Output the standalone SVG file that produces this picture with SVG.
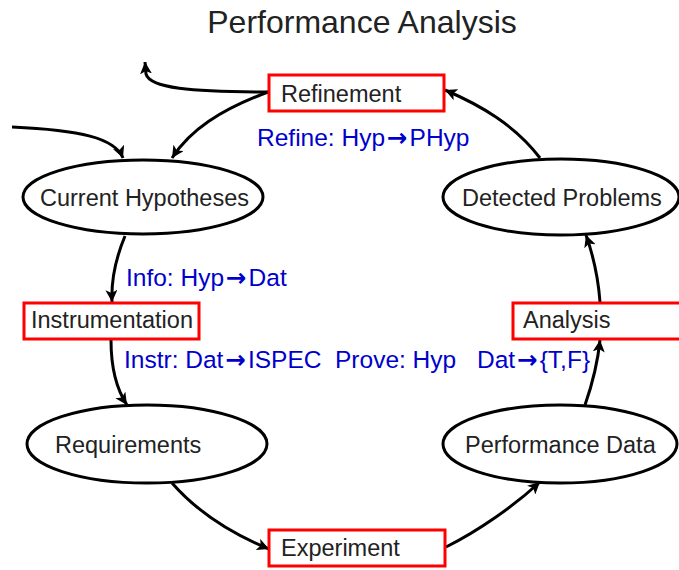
<svg xmlns="http://www.w3.org/2000/svg" width="679" height="570" viewBox="0 0 679 570">
<style>
.t{font-family:"Liberation Sans",Arial,sans-serif;font-size:23.5px;fill:#222}
.b{font-family:"Liberation Sans",Arial,sans-serif;font-size:24.5px;fill:#0000cc}
.ar{font-family:"DejaVu Sans",sans-serif;font-weight:bold}
.title{font-family:"Liberation Sans",Arial,sans-serif;font-size:32px;fill:#222}
.box{fill:#fff;stroke:#ff0000;stroke-width:3}
.ell{fill:#fff;stroke:#000;stroke-width:3}
.c{fill:none;stroke:#000;stroke-width:3;marker-end:url(#ah)}
</style>
<defs>
<marker id="ah" markerUnits="userSpaceOnUse" markerWidth="14" markerHeight="12" refX="12" refY="6" orient="auto">
<path d="M0,0 L12,6 L0,12 L3,6 Z" fill="#000"/>
</marker>
</defs>
<rect width="679" height="570" fill="#fff"/>
<text class="title" x="362" y="33" text-anchor="middle">Performance Analysis</text>
<g id="connectors">
<path class="c" d="M268,92 C190,92 150,88 146,74 L145,62"/>
<path class="c" d="M12,127 C80,130 115,138 123,158"/>
<path class="c" d="M268,92 C220,110 190,130 172,158"/>
<path class="c" d="M125,236 C115,260 111,280 112,302"/>
<path class="c" d="M111,340 C111,370 117,390 127,405"/>
<path class="c" d="M172,483 C200,515 235,535 269,549"/>
<path class="c" d="M446,547 C480,530 515,505 540,482"/>
<path class="c" d="M585,405 C592,385 598,360 600,340"/>
<path class="c" d="M600,302 C598,275 592,252 586,235"/>
<path class="c" d="M540,158 C515,125 480,105 445,90"/>
</g>
<g id="refinement"><rect class="box" x="269" y="75" width="175" height="36"/><text class="t" x="281" y="102">Refinement</text></g>
<g id="current-hypotheses"><ellipse class="ell" cx="143" cy="197" rx="120" ry="37"/><text class="t" x="40" y="206">Current Hypotheses</text></g>
<g id="detected-problems"><ellipse class="ell" cx="561" cy="197" rx="118" ry="38"/><text class="t" x="462" y="206">Detected Problems</text></g>
<g id="instrumentation"><rect class="box" x="24" y="303" width="175" height="36"/><text class="t" x="31" y="328">Instrumentation</text></g>
<g id="analysis"><rect class="box" x="513" y="303" width="180" height="36"/><text class="t" x="523" y="328">Analysis</text></g>
<g id="requirements"><ellipse class="ell" cx="147" cy="444" rx="120" ry="39"/><text class="t" x="55" y="453">Requirements</text></g>
<g id="performance-data"><ellipse class="ell" cx="560" cy="444" rx="117" ry="39"/><text class="t" x="465" y="453">Performance Data</text></g>
<g id="experiment"><rect class="box" x="269" y="530" width="176" height="36"/><text class="t" x="281" y="556">Experiment</text></g>
<g id="labels">
<text class="b" x="257" y="146">Refine: Hyp<tspan class="ar" dx="2">→</tspan><tspan dx="2">PHyp</tspan></text>
<text class="b" x="126" y="286">Info: Hyp<tspan class="ar" dx="2">→</tspan><tspan dx="2">Dat</tspan></text>
<text class="b" y="368"><tspan x="124">Instr: Dat</tspan><tspan class="ar" dx="2">→</tspan><tspan dx="2">ISPEC</tspan><tspan x="335">Prove: Hyp</tspan><tspan x="477">Dat</tspan><tspan class="ar" dx="2">→</tspan><tspan dx="2">{T,F}</tspan></text>
</g>
</svg>
